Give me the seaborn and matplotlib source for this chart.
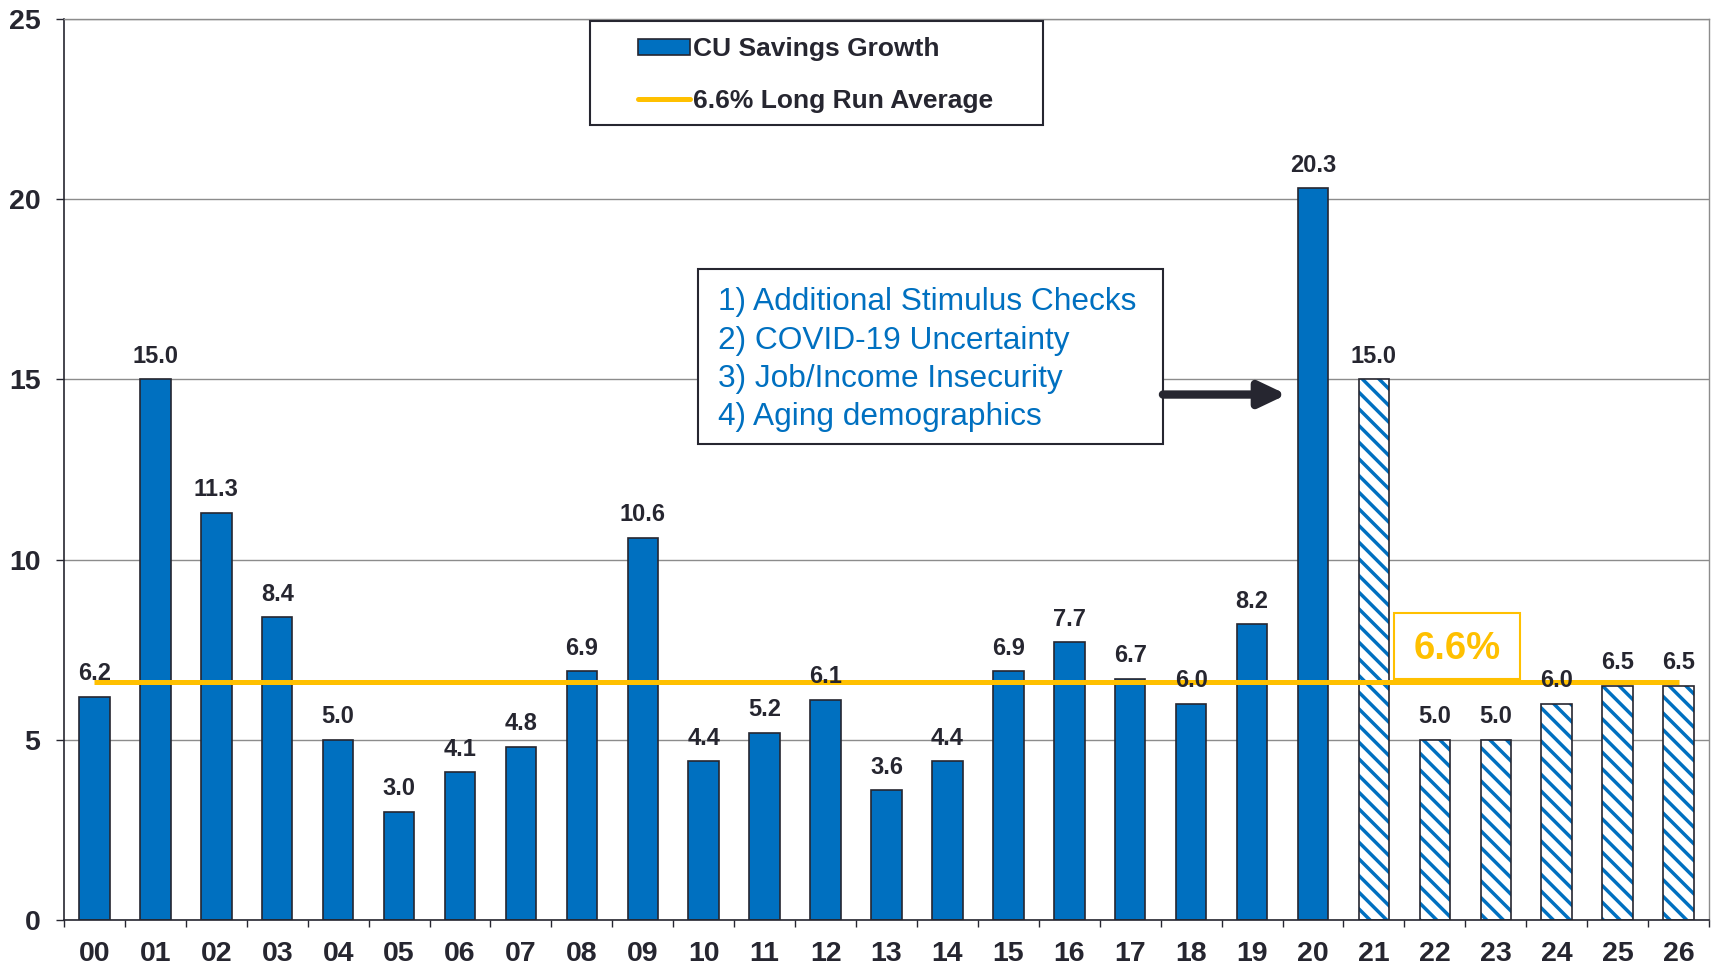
import matplotlib
matplotlib.use('Agg')
import matplotlib.pyplot as plt
import seaborn as sns
from matplotlib.patches import Patch, Rectangle
from matplotlib.lines import Line2D
from matplotlib.ticker import FixedLocator

# data
years = ['00', '01', '02', '03', '04', '05', '06', '07', '08', '09', '10', '11', '12', '13',
         '14', '15', '16', '17', '18', '19', '20', '21', '22', '23', '24', '25', '26']
growth = [6.2, 15.0, 11.3, 8.4, 5.0, 3.0, 4.1, 4.8, 6.9, 10.6, 4.4, 5.2, 6.1, 3.6,
          4.4, 6.9, 7.7, 6.7, 6.0, 8.2, 20.3, 15.0, 5.0, 5.0, 6.0, 6.5, 6.5]
first_forecast = '21'
long_run_avg = 6.6
notes = ['1) Additional Stimulus Checks', '2) COVID-19 Uncertainty',
         '3) Job/Income Insecurity', '4) Aging demographics']

blue = '#0070C0'
gold = '#FFC000'
dark = '#262630'
grid_gray = '#8c8c8c'

sns.set_theme(style='white')
plt.rcParams['font.family'] = ['Liberation Sans', 'DejaVu Sans']
plt.rcParams['hatch.linewidth'] = 2.5

fig = plt.figure(figsize=(17.13, 9.64), dpi=100)
ax = fig.add_axes([0.03736, 0.04564, 0.9603, 0.93465])

df_x = list(range(len(years)))
sns.barplot(x=years, y=growth, color=blue, saturation=1, width=0.5,
            edgecolor=dark, linewidth=1.2, ax=ax, zorder=2)

# forecast years: white with blue diagonal hatch, dark outline
k0 = years.index(first_forecast)
for p in ax.patches[k0:]:
    p.set_facecolor('white')
    p.set_edgecolor(blue)
    p.set_hatch('\\\\')
    p.set_linewidth(0)
ax.bar(df_x[k0:], growth[k0:], width=0.5, fill=False, edgecolor=dark, linewidth=1.2, zorder=3)

# long run average line
ax.hlines(long_run_avg, df_x[0], df_x[-1], color=gold, linewidth=3.6, zorder=4)

# value labels
for i, v in zip(df_x, growth):
    ax.annotate(f'{v:.1f}', (i, v), xytext=(0, 12), textcoords='offset points',
                ha='center', va='baseline', fontsize=17, fontweight='bold',
                color=dark, zorder=6)

ax.set_xlim(-0.5, len(years) - 0.5)
ax.set_ylim(0, 25)
ax.set_yticks([0, 5, 10, 15, 20, 25])
ax.set_yticklabels(['0', '5', '10', '15', '20', '25'])
ax.yaxis.grid(True, color=grid_gray, linewidth=1.0)
ax.set_axisbelow(True)
ax.set_xlabel('')
ax.set_ylabel('')

ax.xaxis.set_minor_locator(FixedLocator([i - 0.5 for i in df_x] + [df_x[-1] + 0.5]))
ax.tick_params(axis='x', which='major', length=0, pad=15, labelsize=20.5, labelcolor=dark)
ax.tick_params(axis='x', which='minor', bottom=True, length=5, width=1.0, color=dark)
ax.tick_params(axis='y', which='major', left=True, length=6, width=1.0, color=dark,
               pad=11, labelsize=20.5, labelcolor=dark)
for lab in ax.get_xticklabels() + ax.get_yticklabels():
    lab.set_fontweight('bold')

for s in ['left', 'bottom']:
    ax.spines[s].set_color(dark)
    ax.spines[s].set_linewidth(1.2)
for s in ['top', 'right']:
    ax.spines[s].set_color(grid_gray)
    ax.spines[s].set_linewidth(1.0)

# 6.6% call-out box
ax.add_patch(Rectangle((21.33, 6.69), 2.07, 1.83, facecolor='white', edgecolor=gold,
                       linewidth=1.5, zorder=5))
ax.text(22.37, 7.52, f'{long_run_avg}%', ha='center', va='center', fontsize=27.5,
        fontweight='bold', color=gold, zorder=6)

# drivers box + arrow
ax.add_patch(Rectangle((9.905, 13.21), 7.632, 4.85, facecolor='white', edgecolor=dark,
                       linewidth=1.5, zorder=5))
for yy, line in zip([17.14, 16.06, 15.0, 13.95], notes):
    ax.text(10.23, yy, line, ha='left', va='center', fontsize=22.8, color=blue, zorder=6)
ax.annotate('', xy=(19.57, 14.58), xytext=(17.537, 14.58),
            arrowprops=dict(arrowstyle='-|>,head_length=0.8,head_width=0.38',
                            color=dark, lw=6, mutation_scale=20,
                            shrinkA=0, shrinkB=0), zorder=6)

# legend with its own frame
handles = [Patch(facecolor=blue, edgecolor=dark, linewidth=1.2),
           Line2D([0], [0], color=gold, linewidth=3.6)]
fig.legend(handles, ['CU Savings Growth', f'{long_run_avg}% Long Run Average'],
           loc='center left', bbox_to_anchor=(0.3649, 0.9222), frameon=False,
           borderpad=0, handlelength=1.97, handleheight=0.57, handletextpad=0.11,
           labelspacing=1.05, prop={'size': 19, 'weight': 'bold'}, labelcolor=dark)
fig.add_artist(Rectangle((0.3444, 0.8703), 0.2645, 0.1079, transform=fig.transFigure,
                         facecolor='white', edgecolor=dark, linewidth=1.5, zorder=1))

fig.savefig('out.png', dpi=100)
